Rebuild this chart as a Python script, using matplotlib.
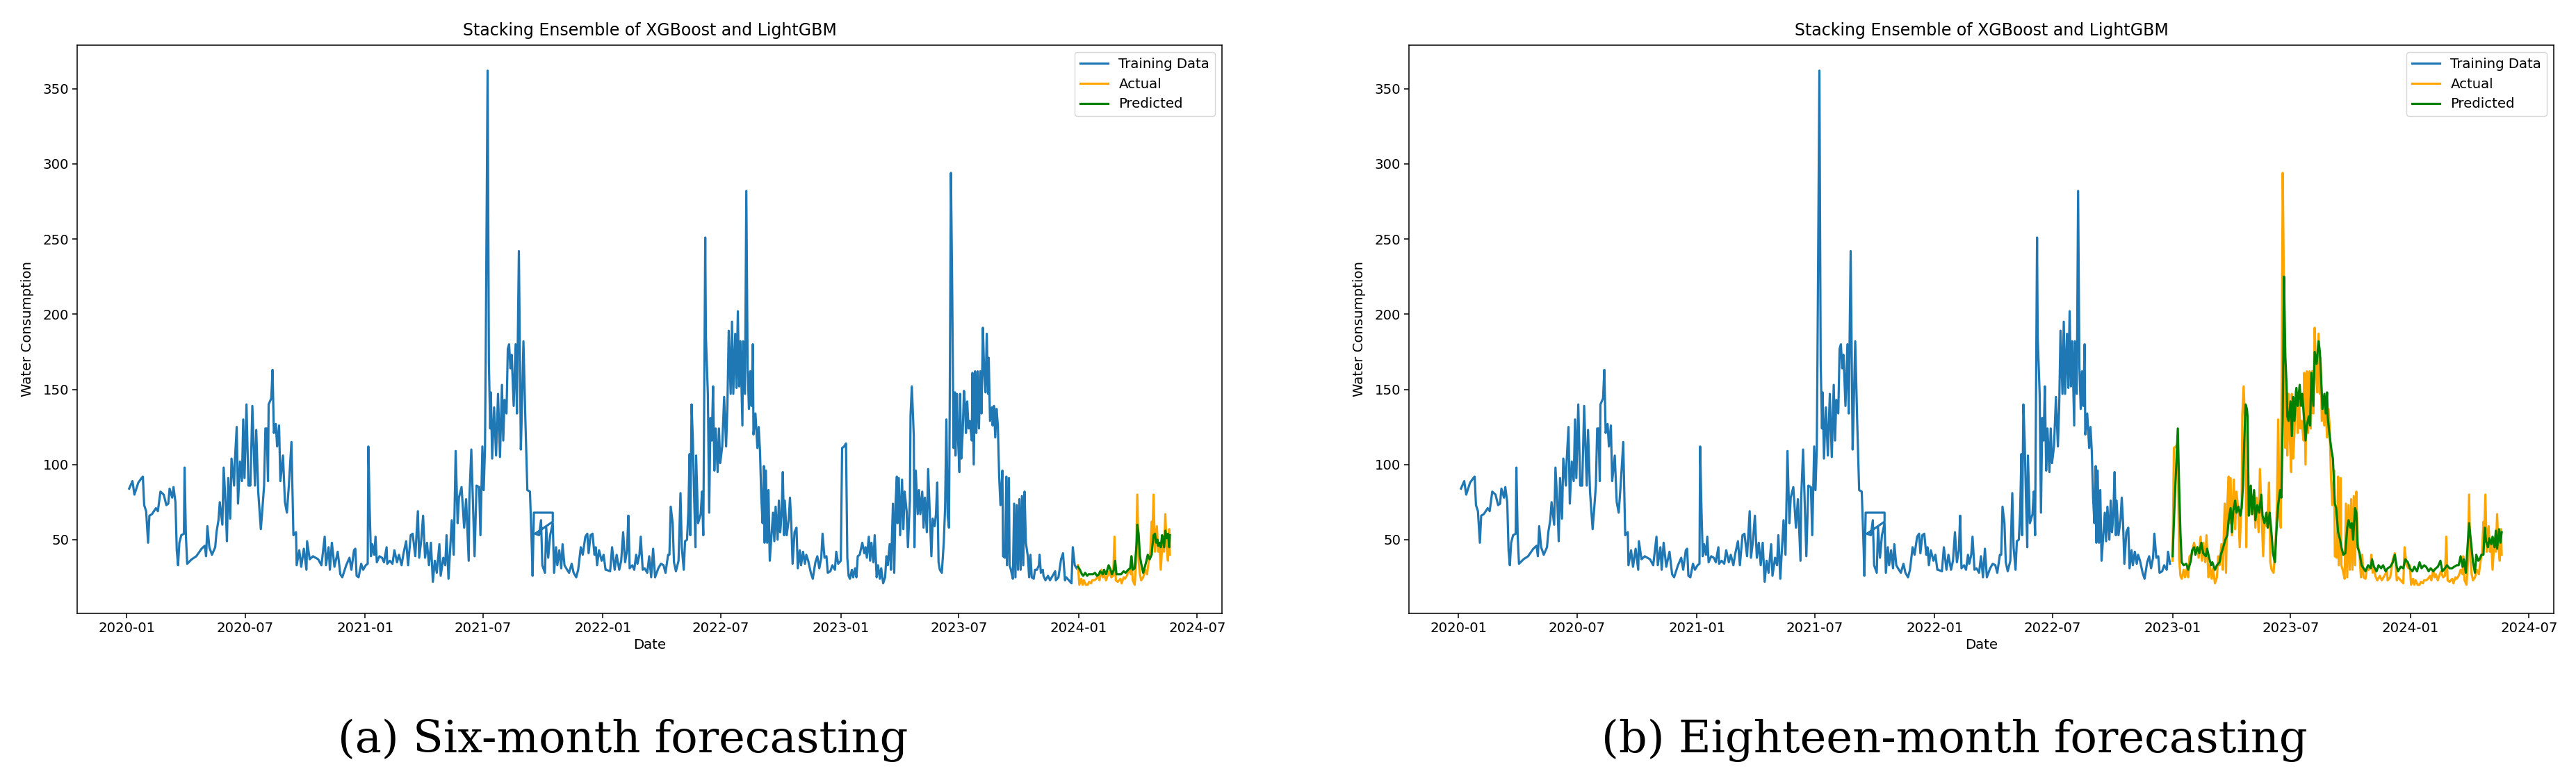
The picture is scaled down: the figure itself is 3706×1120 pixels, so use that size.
import numpy as np
import pandas as pd
import matplotlib
matplotlib.use("Agg")
import matplotlib.pyplot as plt
import matplotlib.dates as mdates

# day offsets from START and readings (water consumption)
START = "2020-01-01"

obs_2020 = [(4,84),(9,89),(12,80),(18,88),(23,91),(25,92),(27,73),(30,69),(33,48),(35,66),(39,67),(45,71),
            (48,69),(52,82),(57,80),(61,73),(64,74),(66,84),(70,78),(72,85),(75,75),(77,43),(79,33),(81,48),
            (84,53),(88,54),(89,98),(91,53),(93,34),(100,37),(107,39),(115,44),(120,46),(122,39),(124,59),
            (127,45),(131,40),(136,45),(138,55),(141,63),(143,75),(147,60),(149,98),(152,73),(154,49),(156,91),
            (159,64),(161,104),(165,86),(166,101),(169,125),(171,74),(174,102),(177,89),(179,130),(181,91),
            (184,140),(187,86),(190,86),(193,139),(197,86),(199,123),(202,82),(206,57),(208,68),(211,86),
            (213,124),(215,124),(217,89),(218,140),(222,144),(224,163),(226,121),(229,127),(231,112),(234,126),
            (236,89),(240,106),(243,75),(246,68),(249,86),(253,115),(256,53),(260,55),(261,33),(265,43),
            (268,32),(272,44),(276,30),(277,49),(281,37),(286,39),(294,37),(299,33),(304,52),(306,33),(310,45),
            (312,30),(315,48),(319,32),(324,42),(328,27),(331,25),(337,33),(342,38),(345,30),(349,43),(351,44),
            (353,26),(356,25),(360,34),(363,30)]

obs_2021 = [(367,33),(370,34),(371,112),(373,71),(375,39),(377,47),(380,40),(382,52),(384,35),(388,39),
            (392,38),(395,35),(399,45),(400,34),(404,36),(408,34),(411,43),(415,35),(418,40),(422,33),(425,41),
            (429,49),(432,33),(436,53),(439,54),(443,39),(447,69),(449,38),(452,49),(455,66),(458,38),(461,48),
            (464,33),(467,48),(470,22),(473,36),(476,28),(480,47),(482,26),(486,38),(489,33),(491,53),(494,24),
            (499,63),(502,40),(505,109),(508,61),(510,78),(514,85),(518,58),(521,77),(525,36),(526,77),(529,110),
            (534,39),(537,86),(541,85),(543,53),(546,112),(548,83),(550,111),(551,167),(554,362),(556,167),
            (558,124),(559,148),(561,104),(564,138),(567,106),(570,147),(573,105),(576,153),(578,116),(580,143),
            (583,134),(585,177),(587,180),(589,164),(591,173),(594,139),(597,180),(599,134),(602,242),(605,110),
            (606,126),(609,182),(612,129),(615,83),(619,82),(622,43),(623,26),(625,68),(654,68),(654,62),
            (627,54),(633,53),(636,63),(638,33),(642,28),(644,58),(647,38),(650,53),(654,61),(656,28),(659,45),
            (661,33),(664,43),(667,31),(669,47),(672,33),(676,30),(679,28),(683,34),(686,28),(690,25),(693,30),
            (697,45),(700,40),(704,52),(707,54),(709,41),(712,53),(715,54),(718,40),(720,45),(722,33),(725,43),
            (729,36),(732,40),(735,30)]

obs_2022 = [(736,30),(742,29),(745,45),(749,30),(752,40),(756,30),(759,36),(762,55),(765,35),(768,43),
            (770,66),(772,31),(776,33),(779,30),(782,40),(784,34),(787,40),(789,52),(792,30),(795,31),(799,28),
            (802,39),(805,25),(808,44),(811,25),(816,31),(820,34),(824,33),(827,28),(831,40),(833,40),(835,72),
            (838,61),(840,35),(843,29),(847,36),(850,81),(852,45),(855,30),(857,49),(860,50),(862,68),(864,107),
            (865,53),(867,140),(869,116),(871,78),(873,45),(874,106),(877,61),(881,67),(883,82),(885,53),
            (888,251),(889,185),(892,147),(894,68),(896,131),(898,116),(900,152),(902,96),(904,124),(907,95),
            (909,124),(911,101),(914,112),(917,145),(920,112),(922,139),(924,189),(927,147),(929,195),(931,147),
            (934,187),(936,151),(938,202),(940,152),(942,182),(945,126),(946,182),(949,147),(951,282),(953,165),
            (955,137),(957,162),(959,139),(961,180),(962,120),(965,134),(968,111),(970,125),(972,109),(974,78),
            (976,61),(978,99),(979,48),(981,96),(983,48),(985,83),(987,36),(990,55),(992,68),(994,49),(996,72),
            (999,50),(1001,76),(1003,55),(1005,66),(1007,95),(1009,53),(1010,76),(1013,53),(1016,63),(1018,78),
            (1020,61),(1022,34),(1025,55),(1028,58),(1030,31),(1033,43),(1035,33),(1038,42),(1041,34),(1043,40),
            (1046,36),(1050,28),(1053,24),(1057,35),(1060,39),(1063,31),(1066,38),(1068,54),(1071,38),(1074,39),
            (1076,28),(1080,29),(1083,33),(1087,30),(1089,42),(1092,34)]

obs_2023 = [(1096,36),(1098,111),(1101,112),(1104,114),(1106,38),(1108,26),(1110,24),(1113,30),(1115,25),
            (1118,31),(1120,25),(1122,39),(1125,40),(1127,44),(1129,48),(1132,41),(1134,45),(1136,38),(1139,52),
            (1141,36),(1143,48),(1146,35),(1148,53),(1151,25),(1153,33),(1156,24),(1158,31),(1161,21),(1164,25),
            (1166,39),(1168,33),(1171,47),(1173,30),(1176,74),(1178,28),(1180,74),(1182,92),(1183,61),(1185,91),
            (1187,53),(1190,90),(1192,57),(1194,82),(1197,69),(1199,45),(1202,76),(1203,133),(1205,152),
            (1208,119),(1209,45),(1211,96),(1214,67),(1216,83),(1218,67),(1221,82),(1223,58),(1225,78),(1228,55),
            (1230,97),(1233,63),(1235,39),(1237,64),(1240,59),(1242,67),(1244,88),(1246,35),(1248,30),(1251,28),
            (1254,48),(1256,71),(1258,130),(1260,66),(1262,58),(1263,129),(1265,294),(1267,213),(1269,111),
            (1271,148),(1272,106),(1274,147),(1276,116),(1278,95),(1279,147),(1281,104),(1283,121),(1285,149),
            (1287,137),(1288,121),(1290,142),(1292,124),(1294,129),(1297,116),(1298,161),(1300,100),(1302,162),
            (1304,121),(1306,162),(1308,124),(1310,162),(1312,134),(1314,191),(1316,162),(1318,148),(1320,187),
            (1322,147),(1323,171),(1325,129),(1328,138),(1329,126),(1331,139),(1333,118),(1335,137),(1337,126),
            (1339,92),(1341,73),(1344,96),(1345,39),(1348,38),(1350,92),(1351,33),(1354,91),(1355,33),(1357,30),
            (1360,24),(1362,74),(1364,25),(1366,73),(1368,30),(1370,77),(1372,30),(1374,79),(1376,33),(1378,82),
            (1380,48),(1383,39),(1385,25),(1387,40),(1389,25),(1392,24),(1394,30),(1397,30),(1400,33),(1401,40),
            (1403,28),(1406,30),(1407,26),(1410,23),(1414,26),(1417,23),(1421,26),(1425,29),(1426,23),(1430,25),
            (1434,37),(1437,41),(1440,23),(1442,25),(1446,23),(1450,21),(1452,45),(1455,33),(1458,31)]

obs_2024 = [(1460,33),(1462,20),(1465,24),(1467,20),(1469,23),(1472,20),(1475,20),(1477,22),(1480,21),
            (1482,23),(1485,23),(1488,24),(1491,26),(1493,23),(1496,30),(1498,25),(1500,27),(1503,23),(1506,27),
            (1508,29),(1511,25),(1514,26),(1516,52),(1518,23),(1521,22),(1525,24),(1527,21),(1530,25),(1532,24),
            (1535,26),(1538,30),(1541,27),(1542,39),(1544,23),(1547,20),(1549,34),(1551,80),(1553,36),(1555,27),
            (1557,23),(1560,25),(1563,30),(1566,27),(1568,34),(1571,42),(1573,62),(1574,51),(1576,80),(1578,42),
            (1581,59),(1583,42),(1585,48),(1587,30),(1590,51),(1592,42),(1594,67),(1596,45),(1598,36),(1600,57),
            (1601,40)]

pred_six = [(1460,32),(1463,30),(1466,27),(1468,26),(1471,28),(1474,26),(1476,27),(1480,27),(1483,27),
            (1486,28),(1489,26),(1492,27),(1494,29),(1498,27),(1500,30),(1503,27),(1507,33),(1510,30),(1512,27),
            (1515,30),(1517,36),(1519,27),(1523,27),(1526,27),(1530,29),(1533,28),(1537,30),(1540,31),(1542,39),
            (1544,30),(1547,31),(1550,48),(1551,60),(1553,54),(1555,39),(1557,34),(1560,28),(1562,31),(1565,36),
            (1567,40),(1570,37),(1573,40),(1574,45),(1576,53),(1578,54),(1580,48),(1582,50),(1583,46),(1585,48),
            (1587,45),(1589,53),(1591,48),(1592,45),(1594,56),(1596,51),(1598,54),(1600,45),(1601,53)]

pred_eighteen = [(1096,39),(1099,73),(1102,104),(1104,124),(1106,86),(1108,55),(1110,35),(1113,33),(1117,34),
            (1120,30),(1124,36),(1126,43),(1129,45),(1131,40),(1134,45),(1137,41),(1140,48),(1143,41),(1147,39),
            (1149,44),(1152,38),(1155,33),(1157,35),(1161,30),(1164,33),(1168,35),(1170,40),(1173,44),(1177,50),
            (1180,53),(1182,63),(1185,71),(1187,55),(1189,69),(1192,76),(1194,68),(1197,72),(1200,66),(1202,71),
            (1204,86),(1206,116),(1208,140),(1210,137),(1211,132),(1213,66),(1216,86),(1218,67),(1221,83),
            (1223,63),(1226,73),(1229,68),(1232,80),(1234,66),(1237,61),(1240,68),(1242,58),(1245,68),(1248,53),
            (1250,41),(1253,35),(1255,53),(1258,73),(1261,83),(1263,78),(1265,129),(1267,225),(1269,172),
            (1271,152),(1272,132),(1274,129),(1277,142),(1279,119),(1281,145),(1283,129),(1286,151),(1288,139),
            (1291,153),(1293,139),(1295,147),(1298,129),(1300,116),(1302,126),(1305,132),(1307,126),(1309,161),
            (1312,139),(1314,175),(1317,167),(1318,172),(1320,182),(1322,175),(1324,157),(1326,137),(1329,147),
            (1331,134),(1333,148),(1334,132),(1337,119),(1340,109),(1342,104),(1345,74),(1347,71),(1350,55),
            (1353,50),(1355,45),(1358,40),(1361,41),(1364,58),(1366,63),(1369,58),(1371,61),(1373,50),(1376,71),
            (1378,68),(1380,45),(1383,41),(1386,33),(1389,31),(1392,29),(1396,33),(1400,31),(1402,37),(1405,32),
            (1409,29),(1412,33),(1416,31),(1419,33),(1423,29),(1426,31),(1430,32),(1434,35),(1437,40),(1440,32),
            (1442,29),(1446,32),(1450,31),(1453,37),(1457,35),(1460,31),(1464,29),(1467,32),(1471,29),(1475,35),
            (1478,31),(1482,33),(1485,32),(1489,29),(1492,31),(1496,29),(1500,31),(1503,32),(1507,36),(1510,29),
            (1514,31),(1517,33),(1521,31),(1525,31),(1528,32),(1532,33),(1535,33),(1538,39),(1541,32),(1543,37),
            (1546,28),(1549,48),(1551,61),(1554,48),(1557,35),(1560,28),(1562,40),(1565,36),(1567,37),(1570,40),
            (1573,40),(1575,58),(1577,49),(1580,45),(1582,51),(1585,47),(1587,52),(1590,45),(1592,56),(1594,44),
            (1597,57),(1599,48),(1601,55)]

split_six = 1460        # first test day, six-month run
split_eighteen = 1096   # first test day, eighteen-month run

captions = ["(a) Six-month forecasting", "(b) Eighteen-month forecasting"]


def to_frame(pairs):
    df = pd.DataFrame(pairs, columns=["day", "value"])
    df["date"] = pd.to_datetime(START) + pd.to_timedelta(df["day"], unit="D")
    return df


obs = to_frame(obs_2020 + obs_2021 + obs_2022 + obs_2023 + obs_2024)
runs = [(split_six, to_frame(pred_six)), (split_eighteen, to_frame(pred_eighteen))]

plt.rcParams["font.family"] = "DejaVu Sans"
plt.rcParams["font.size"] = 14.2

fig = plt.figure(figsize=(37.06, 11.2), dpi=100)
lefts = [111 / 3706, 2027 / 3706]
cap_x = [896 / 3706, 2812 / 3706]

for i, (split, pred) in enumerate(runs):
    ax = fig.add_axes([lefts[i], 0.2116, 0.4444, 0.7304])
    train = obs[obs["day"] < split]
    test = obs[obs["day"] >= split]
    ax.plot(train["date"], train["value"], color="#1f77b4", lw=2.3, label="Training Data")
    ax.plot(test["date"], test["value"], color="orange", lw=2.3, label="Actual")
    ax.plot(pred["date"], pred["value"], color="green", lw=2.3, label="Predicted")
    ax.set_ylim(1, 379)
    ax.set_yticks([50, 100, 150, 200, 250, 300, 350])
    ax.xaxis.set_major_locator(mdates.MonthLocator(bymonth=[1, 7]))
    ax.xaxis.set_major_formatter(mdates.DateFormatter("%Y-%m"))
    ax.set_title("Stacking Ensemble of XGBoost and LightGBM", fontsize=17, pad=10)
    ax.set_xlabel("Date")
    ax.set_ylabel("Water Consumption", labelpad=9)
    ax.tick_params(length=5, width=1.1)
    for s in ax.spines.values():
        s.set_linewidth(1.1)
    ax.legend(loc="upper right")
    fig.text(cap_x[i], 1 - 1066 / 1120, captions[i], ha="center", va="center",
             fontsize=46, family="DejaVu Serif")

fig.savefig("out.png", dpi=100)
